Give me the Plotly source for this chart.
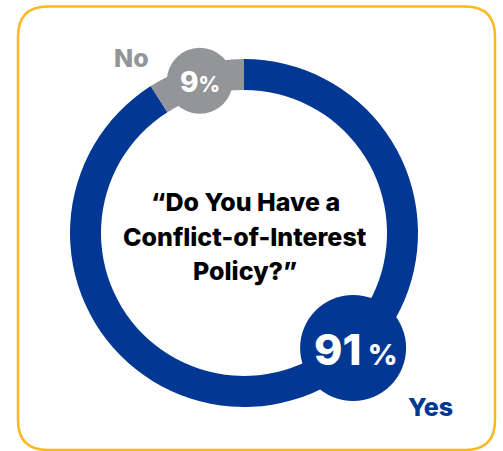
import math
import plotly.graph_objects as go

# Survey answers
labels = ["Yes", "No"]
values = [91, 9]
question_lines = ["\u201cDo You Have a", "Conflict-of-Interest", "Policy?\u201d"]

W, H = 503, 451
BLUE = "#023794"
GRAY = "#939598"
GOLD = "#FBB820"
FONT = "Inter"

# ring geometry in pixels
CX, CY = 244, 233
R_OUT, R_IN = 174, 143
R_MID = (R_OUT + R_IN) / 2


def px(x):
    return x / W


def py(y):
    return 1 - y / H


def ring_point(angle_deg):
    a = math.radians(angle_deg)
    return CX + R_MID * math.sin(a), CY - R_MID * math.cos(a)


total = sum(values)
shares = [v / total for v in values]

fig = go.Figure(
    go.Pie(
        labels=labels,
        values=values,
        hole=R_IN / R_OUT,
        sort=False,
        direction="clockwise",
        rotation=0,
        marker=dict(colors=[BLUE, GRAY], line=dict(width=0)),
        textinfo="none",
        hoverinfo="label+percent",
        showlegend=False,
        domain=dict(x=[px(CX - R_OUT), px(CX + R_OUT)],
                    y=[py(CY + R_OUT), py(CY - R_OUT)]),
    )
)

shapes = []
annotations = []


def bubble(cx, cy, r, color):
    shapes.append(dict(type="circle", xref="paper", yref="paper",
                       x0=px(cx - r), x1=px(cx + r), y0=py(cy + r), y1=py(cy - r),
                       fillcolor=color, line=dict(width=0), layer="above"))


def label(x, y, text, size, color):
    annotations.append(dict(x=px(x), y=py(y), xref="paper", yref="paper",
                            xanchor="center", yanchor="middle", showarrow=False,
                            text=text, font=dict(family=FONT, size=size, color=color, weight=800)))


# "No" bubble sits at the middle of its slice
no_mid = 360 * (shares[0] + shares[1] / 2)
nx, ny = ring_point(no_mid)
bubble(nx, ny, 33, GRAY)
label(nx, ny + 1, f"{values[1]}<span style='font-size:21px'>%</span>", 28, "white")

# "Yes" bubble on the lower right of the ring
yx, yy = ring_point(136.5)
bubble(yx, yy, 53, BLUE)
label(yx + 3, yy + 1, f"{values[0]}<span style='font-size:29px'> %</span>", 43, "white")

# category labels
label(131, 58, labels[1], 25, GRAY)
label(430, 407, labels[0], 25, BLUE)

# question in the middle of the ring
for i, line in enumerate(question_lines):
    label(245, 202 + 34.5 * i, line, 25, "black")

# rounded frame
x0, x1, y0, y1, r = 18, 495, 6.5, 450, 30
path = (
    f"M {px(x0 + r)} {py(y0)} L {px(x1 - r)} {py(y0)} "
    f"Q {px(x1)} {py(y0)} {px(x1)} {py(y0 + r)} "
    f"L {px(x1)} {py(y1 - r)} Q {px(x1)} {py(y1)} {px(x1 - r)} {py(y1)} "
    f"L {px(x0 + r)} {py(y1)} Q {px(x0)} {py(y1)} {px(x0)} {py(y1 - r)} "
    f"L {px(x0)} {py(y0 + r)} Q {px(x0)} {py(y0)} {px(x0 + r)} {py(y0)} Z"
)
shapes.append(dict(type="path", xref="paper", yref="paper", path=path,
                   line=dict(color=GOLD, width=2.5), layer="below"))

fig.update_layout(
    width=W, height=H,
    margin=dict(l=0, r=0, t=0, b=0),
    paper_bgcolor="white", plot_bgcolor="white",
    shapes=shapes, annotations=annotations,
)

fig.write_html("out.html")
